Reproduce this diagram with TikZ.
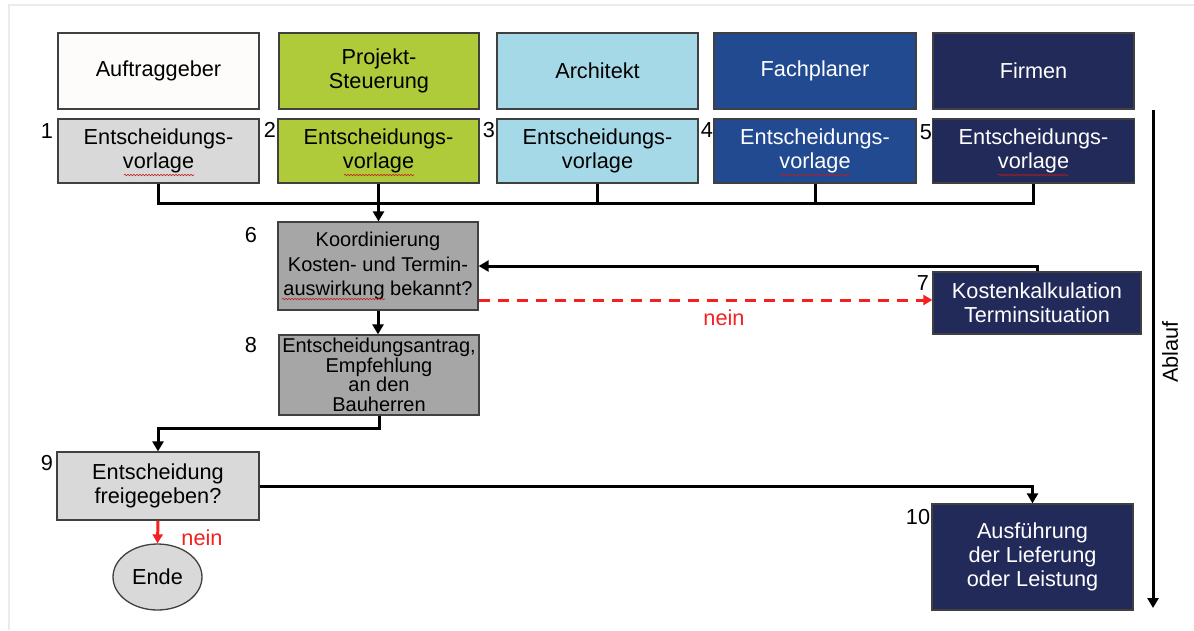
\documentclass[tikz,border=0pt]{standalone}
\usepackage{fontspec}
\setmainfont{Liberation Sans}
\usetikzlibrary{arrows.meta,shapes.geometric,decorations.pathmorphing}
\definecolor{cBorder}{HTML}{404040}
\definecolor{cOffwhite}{HTML}{FDFCFA}
\definecolor{cLight}{HTML}{D9D9D9}
\definecolor{cGreen}{HTML}{B0CB3A}
\definecolor{cLightBlue}{HTML}{A6D9E7}
\definecolor{cBlue}{HTML}{214A91}
\definecolor{cNavy}{HTML}{222A5A}
\definecolor{cGray}{HTML}{A6A6A6}
\definecolor{cRed}{HTML}{F52020}
\definecolor{cFrame}{HTML}{EBEBEB}
\newcommand\fsBig{\fontsize{21.7}{24}\selectfont}
\newcommand\fsMid{\fontsize{20}{24.5}\selectfont}
\newcommand\fsSmall{\fontsize{20}{19.5}\selectfont}
\tikzset{
  box/.style={draw=cBorder, line width=1.3pt, inner sep=0pt, align=center, font=\fsBig},
  wh/.style 2 args={minimum width=#1pt, minimum height=#2pt},
  num/.style={font=\fsBig, inner sep=0pt},
  conn/.style={draw=black, line width=3pt, line join=miter},
  arr/.style={conn, -{Triangle[length=10pt,width=11pt]}},
  redarr/.style={draw=cRed, line width=3pt, -{Triangle[length=9pt,width=10pt]}},
  reddash/.style={redarr, dash pattern=on 11pt off 8pt},
  squig/.style={draw=cRed!80!black, line width=0.6pt, decorate, decoration={snake, amplitude=0.7pt, segment length=3pt}},
  redtext/.style={text=cRed, font=\fsBig, inner sep=0pt}
}
\begin{document}
\begin{tikzpicture}[x=1pt,y=-1pt]
\path[use as bounding box, fill=white] (0,0) rectangle (1194,630);
\draw[cFrame, line width=2pt] (9,630) -- (9,5) -- (1194,5);

% header row
\node[box, fill=cOffwhite, wh={201}{76}] (h1) at (158.5,71) {Auftraggeber};
\node[box, fill=cGreen, wh={200}{76}] (h2) at (379,71) {Projekt-\\Steuerung};
\node[box, fill=cLightBlue, wh={201}{76}] (h3) at (597.5,71) {Architekt};
\node[box, fill=cBlue, text=white, wh={202}{76}] (h4) at (815,71) {Fachplaner};
\node[box, fill=cNavy, text=white, wh={201}{76}] (h5) at (1033.5,71) {Firmen};

% lower row
\node[box, fill=cLight, wh={201}{64}] (l1) at (158.5,151) {Entscheidungs-\\vorlage};
\node[box, fill=cGreen, wh={201}{64}] (l2) at (378.5,151) {Entscheidungs-\\vorlage};
\node[box, fill=cLightBlue, wh={201}{64}] (l3) at (597.5,151) {Entscheidungs-\\vorlage};
\node[box, fill=cBlue, text=white, wh={202}{64}] (l4) at (815,151) {Entscheidungs-\\vorlage};
\node[box, fill=cNavy, text=white, wh={202}{64}] (l5) at (1033.5,151) {Entscheidungs-\\vorlage};

\node[num] (n1) at (47,131) {1};
\node[num] (n2) at (270,130) {2};
\node[num] (n3) at (489,130) {3};
\node[num] (n4) at (707,130) {4};
\node[num] (n5) at (926,132) {5};

% process boxes
\node[box, fill=cGray, wh={200}{88}, font=\fsMid] (b6) at (378,266) {Koordinierung\\Kosten- und Termin-\\auswirkung bekannt?};
\node[box, fill=cGray, wh={200}{80}, font=\fsSmall] (b8) at (379,375) {Entscheidungsantrag,\\Empfehlung\\an den\\Bauherren};
\node[box, fill=cNavy, text=white, wh={208}{62}] (b7) at (1037,303) {Kostenkalkulation\\Terminsituation};
\node[box, fill=cLight, wh={202}{68}] (b9) at (158,486) {Entscheidung\\freigegeben?};
\node[box, fill=cNavy, text=white, wh={201}{106}] (b10) at (1032.5,557) {Ausführung\\der Lieferung\\oder Leistung};
\node[ellipse, draw=cBorder, line width=1.3pt, fill=cLight, minimum width=89pt, minimum height=66pt, inner sep=0pt, font=\fsBig] (ende) at (157.5,577) {Ende};

\node[num] (n6) at (251,235) {6};
\node[num] (n7) at (923,283) {7};
\node[num] (n8) at (251,345) {8};
\node[num] (n9) at (47,463) {9};
\node[num] (n10) at (918,517) {10};

% spell-check squiggles
\draw[squig] (124,175) -- (194,175);
\draw[squig] (344,175) -- (414,175);
\draw[squig] (780,175) -- (850,175);
\draw[squig] (998,175) -- (1068,175);
\draw[squig] (282,299) -- (385,299);

% bus
\coordinate (busy) at (0,203);
\draw[conn] (l1.south) |- (busy -| l5.south) -- (l5.south);
\draw[conn] (l3.south) -- (l3.south |- busy);
\draw[conn] (l4.south) -- (l4.south |- busy);
\draw[arr] (l2.south) -- (l2.south |- b6.north);

% 6 -> 8
\draw[arr] (b6.south) -- (b6.south |- b8.north);
% 7 -> 6 feedback
\draw[arr] (b7.north) |- (b6.east);
% 6 -> 7 nein
\coordinate (r6) at ([yshift=-34pt]b6.east);
\draw[reddash] (r6) -- (r6 -| b7.west);
\node[redtext] (nein1) at (724,318) {nein};

% 8 -> 9
\coordinate (bend8) at (379,428);
\draw[arr] (b8.south) -- (bend8) -| (b9.north);
% 9 -> 10
\draw[arr] (b9.east) -| (b10.north);
% 9 -> Ende
\draw[redarr] (b9.south) -- (ende.north);
\node[redtext] (nein2) at (202,538) {nein};

% Ablauf
\coordinate (abTop) at (1153,110);
\coordinate (abBot) at (1153,608);
\draw[arr] (abTop) -- (abBot);
\node[num, rotate=90] (abl) at (1170,352) {Ablauf};
\end{tikzpicture}
\end{document}
